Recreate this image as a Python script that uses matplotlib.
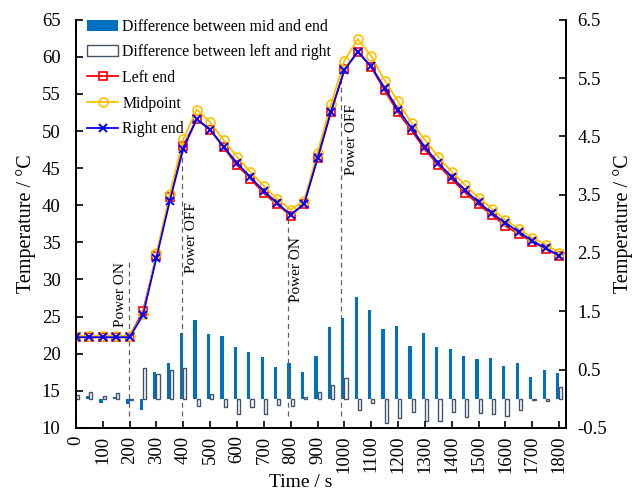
import matplotlib
matplotlib.use("Agg")
import matplotlib.pyplot as plt
import numpy as np

plt.rcParams['font.family'] = ['Liberation Serif', 'DejaVu Serif']

# time points (s)
times = [0, 50, 100, 150, 200, 250, 300, 350, 400, 450, 500, 550, 600, 650,
         700, 750, 800, 850, 900, 950, 1000, 1050, 1100, 1150, 1200, 1250,
         1300, 1350, 1400, 1450, 1500, 1550, 1600, 1650, 1700, 1750, 1800]

# temperatures (left axis)
left_end = [22.3, 22.3, 22.3, 22.3, 22.3, 25.7, 33.2, 41.1, 48.0, 51.6, 50.2,
            47.8, 45.4, 43.6, 41.6, 40.1, 38.6, 40.2, 46.3, 52.6, 58.3, 60.7,
            58.6, 55.5, 52.5, 50.1, 47.5, 45.4, 43.5, 41.7, 40.1, 38.7, 37.2,
            36.1, 35.1, 34.1, 33.2]
midpoint = [22.4, 22.4, 22.4, 22.4, 22.4, 25.3, 33.5, 41.5, 48.9, 52.9, 51.2,
            48.8, 46.5, 44.5, 42.6, 40.8, 39.4, 40.6, 47.1, 53.6, 59.5, 62.4,
            60.1, 56.8, 54.0, 51.1, 48.8, 46.5, 44.5, 42.7, 41.0, 39.5, 38.0,
            36.8, 35.6, 34.7, 33.6]
right_end = [22.2, 22.2, 22.2, 22.2, 22.2, 25.2, 32.9, 40.6, 47.6, 51.6, 50.2,
             47.9, 45.7, 43.8, 41.9, 40.3, 38.7, 40.2, 46.3, 52.6, 58.2, 60.7,
             58.7, 55.8, 52.9, 50.4, 47.8, 45.7, 43.8, 42.0, 40.4, 38.9, 37.6,
             36.4, 35.2, 34.2, 33.2]

# differences (right axis)
diff_mid_end = [0.0, 0.05, -0.08, 0.03, -0.09, -0.19, 0.45, 0.61, 1.12, 1.35,
                1.11, 1.07, 0.88, 0.80, 0.71, 0.54, 0.62, 0.45, 0.73, 1.23,
                1.39, 1.75, 1.52, 1.20, 1.24, 0.90, 1.12, 0.89, 0.85, 0.73,
                0.68, 0.69, 0.56, 0.61, 0.37, 0.50, 0.44]
diff_left_right = [0.06, 0.11, 0.05, 0.09, -0.03, 0.52, 0.43, 0.50, 0.52,
                   -0.12, 0.08, -0.14, -0.27, -0.14, -0.27, -0.11, -0.13, 0.03,
                   0.12, 0.24, 0.35, -0.19, -0.08, -0.42, -0.33, -0.23, -0.39,
                   -0.38, -0.23, -0.31, -0.25, -0.26, -0.29, -0.19, -0.02,
                   -0.04, 0.20]

# power switching marks: x, top of dashed line, label, label x, label y
switch_x = [198, 395, 790, 988]
switch_top = [32.4, 47.9, 38.3, 57.2]
switch_text = ['Power ON', 'Power OFF', 'Power ON', 'Power OFF']
switch_text_x = [165, 430, 821, 1025]
switch_text_y = [28.0, 35.6, 31.3, 48.9]

fig = plt.figure(figsize=(6.32, 4.94), dpi=100)
ax = fig.add_axes([0.120, 0.134, 0.775, 0.826])
ax2 = ax.twinx()

t = np.array(times)
bw = 12
b1 = ax2.bar(t - bw / 2, diff_mid_end, width=bw, color='#0070C0',
             label='Difference between mid and end')
b2 = ax2.bar(t + bw / 2, diff_left_right, width=bw, facecolor='white',
             edgecolor='#44546A', linewidth=1.0,
             label='Difference between left and right')

for x, top in zip(switch_x, switch_top):
    ax.plot([x, x], [11.6, top], ls=(0, (4, 3)), color='#606060', lw=0.9)
for x, y, s in zip(switch_text_x, switch_text_y, switch_text):
    ax.text(x, y, s, rotation=90, ha='center', va='center', fontsize=11)

l1, = ax.plot(times, left_end, color='#FF0000', lw=1.3, marker='s', ms=6,
              mfc='none', mew=1.2, label='Left end')
l2, = ax.plot(times, midpoint, color='#FFC000', lw=1.3, marker='o', ms=6.5,
              mfc='none', mew=1.2, label='Midpoint')
l3, = ax.plot(times, right_end, color='#0000FF', lw=1.3, marker='x', ms=5.5,
              mew=1.4, label='Right end')

ax.set_zorder(ax2.get_zorder() + 1)
ax.patch.set_visible(False)

ax.set_xlim(0, 1824)
ax.set_ylim(10, 65)
ax2.set_ylim(-0.5, 6.5)
ax.set_xticks(range(0, 1801, 100))
ax.set_xticklabels([str(v) for v in range(0, 1801, 100)], rotation=90)
ax.set_yticks(range(10, 66, 5))
ax2.set_yticks(np.arange(-0.5, 6.6, 1.0))
ax2.set_yticklabels(['%.1f' % v for v in np.arange(-0.5, 6.6, 1.0)])

for a in (ax, ax2):
    a.tick_params(direction='in', labelsize=13.5, width=1.2, length=5)
    a.spines['top'].set_visible(False)
    for s in a.spines.values():
        s.set_linewidth(1.3)
ax.tick_params(axis='y', pad=11)
ax.tick_params(axis='x', pad=5.5)
ax2.tick_params(axis='y', pad=8.5)

ax.set_xlabel('Time / s', fontsize=14)
ax.xaxis.set_label_coords(0.46, -0.112)
ax.set_ylabel('Temperature / °C', fontsize=14.5, labelpad=4)
ax2.set_ylabel('Temperature / °C', fontsize=14.5, labelpad=4)

ax.legend([b1, b2, l1, l2, l3],
          ['Difference between mid and end', 'Difference between left and right',
           'Left end', 'Midpoint', 'Right end'],
          loc='upper left', bbox_to_anchor=(0.0, 1.03), frameon=False,
          fontsize=11.3, handlelength=2.0, labelspacing=0.62,
          handletextpad=0.25, borderaxespad=0.3)

fig.savefig('out.png', dpi=100)
